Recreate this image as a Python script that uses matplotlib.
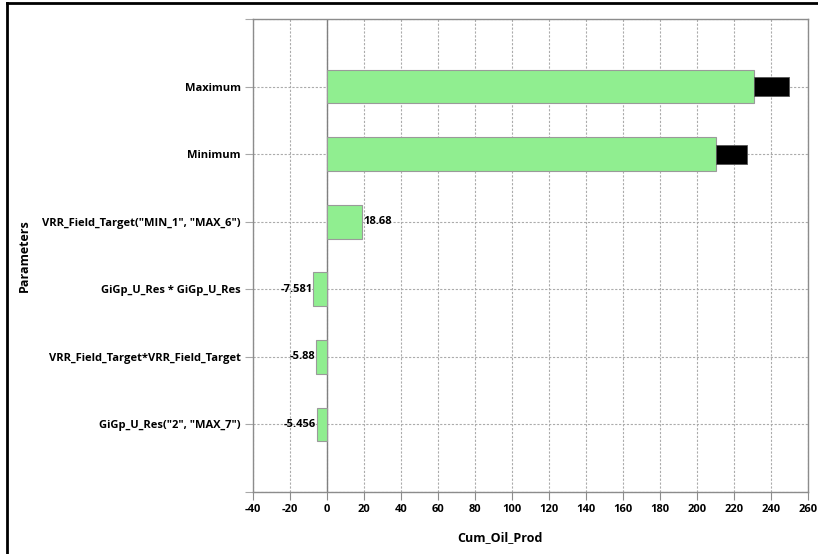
import matplotlib.pyplot as plt
from matplotlib.lines import Line2D

params = ['Maximum', 'Minimum', 'VRR_Field_Target("MIN_1", "MAX_6")',
          'GiGp_U_Res * GiGp_U_Res', 'VRR_Field_Target*VRR_Field_Target',
          'GiGp_U_Res("2", "MAX_7")']
effects = [230.8, 210.0, 18.68, -7.581, -5.88, -5.456]
# black caps on the two summary bars
caps = [18.9, 17.0, 0, 0, 0, 0]
shown = ['', '', '18.68', '-7.581', '-5.88', '-5.456']
xticks = list(range(-40, 261, 20))

plt.rcParams['font.family'] = ['Open Sans', 'DejaVu Sans']
plt.rcParams['font.weight'] = 'bold'

fig = plt.figure(figsize=(8.18, 5.54), dpi=100)
ax = fig.add_axes([253 / 818, 1 - 492 / 554, 555 / 818, 473 / 554])

ypos = list(range(len(params)))
ax.barh(ypos, effects, height=0.5, color='#90ee90', edgecolor='#9a9a9a',
        linewidth=0.8, zorder=3)
for i in ypos:
    if caps[i] > 0:
        ax.barh(i, caps[i], left=effects[i], height=0.28, color='black',
                edgecolor='#555555', linewidth=0.6, zorder=3)
    if shown[i]:
        if effects[i] >= 0:
            ax.text(effects[i] + 1, i, shown[i], ha='left', va='center',
                    fontsize=8, fontweight='bold', zorder=4)
        else:
            ax.text(effects[i] - 0.3, i, shown[i], ha='right', va='center',
                    fontsize=8, fontweight='bold', zorder=4)

ax.set_xlim(-40, 260)
ax.set_ylim(6, -1)
ax.set_xticks(xticks)
ax.set_xticklabels([str(t) for t in xticks], fontsize=8, fontweight='bold')
ax.set_yticks(list(range(-1, 7)))
ax.set_yticklabels([''] + params + [''], fontsize=8, fontweight='bold')

ax.grid(True, color='#ababab', linestyle=(0, (2, 1.5)), linewidth=0.8, zorder=0)
ax.axvline(0, color='#808080', linewidth=1.0, zorder=2)
for s in ax.spines.values():
    s.set_color('#8c8c8c')
    s.set_linewidth(1.0)
ax.tick_params(axis='x', length=6, color='#8c8c8c', pad=3)
ax.tick_params(axis='y', length=6, color='#a8a8a8', pad=3)

ax.set_xlabel('Cum_Oil_Prod', fontsize=9, fontweight='bold')
ax.xaxis.set_label_coords((500 - 253) / 555, -(531 - 492) / 473)
ax.set_ylabel('Parameters', fontsize=9, fontweight='bold')
ax.yaxis.set_label_coords(-(253 - 31) / 555, 0.5)

# outer frame (only left and top edges are inside the picture)
fig.add_artist(Line2D([7 / 818, 7 / 818], [0, 1 - 3 / 554], color='black',
                      linewidth=2.0, transform=fig.transFigure))
fig.add_artist(Line2D([7 / 818, 1], [1 - 3 / 554, 1 - 3 / 554], color='black',
                      linewidth=2.0, transform=fig.transFigure))

plt.savefig('out.png', dpi=100)
